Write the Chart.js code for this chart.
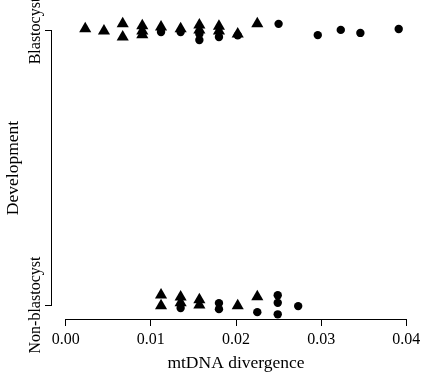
<!DOCTYPE html>
<html>
<head>
<meta charset="utf-8">
<script src="https://cdn.jsdelivr.net/npm/chart.js@4/dist/chart.umd.min.js"></script>
<style>
html,body{margin:0;padding:0;background:#fff;}
#wrap{width:427px;height:374px;position:relative;}
</style>
</head>
<body>
<div id="wrap"><canvas id="c"></canvas></div>
<script>
// Categories (y axis) : index 1 = Non-blastocyst, index 2 = Blastocyst
const categories = ['Non-blastocyst', 'Blastocyst'];
const xTicks = [0, 0.01, 0.02, 0.03, 0.04];
const xTitle = 'mtDNA divergence';
const yTitle = 'Development';

// Triangles, Blastocyst: divergence and vertical jitter
const triBlastX   = [0.0023, 0.0045, 0.0067, 0.0067, 0.0090, 0.0090, 0.0090, 0.0112, 0.0135, 0.0157, 0.0157, 0.0180, 0.0180, 0.0202, 0.0225];
const triBlastJit = [0.008, 0.000, 0.026, -0.022, 0.019, 0.000, -0.014, 0.015, 0.008, 0.022, 0.004, 0.017, 0.000, -0.011, 0.026];
// Circles, Blastocyst
const dotBlastX   = [0.0112, 0.0135, 0.0157, 0.0157, 0.0180, 0.0202, 0.0250, 0.0296, 0.0323, 0.0346, 0.0391];
const dotBlastJit = [-0.004, -0.004, -0.011, -0.033, -0.022, -0.016, 0.026, -0.015, 0.004, -0.007, 0.007];
// Triangles, Non-blastocyst
const triNonX   = [0.0112, 0.0112, 0.0135, 0.0135, 0.0157, 0.0157, 0.0202, 0.0225];
const triNonJit = [0.037, -0.003, 0.029, 0.008, 0.019, 0.000, -0.003, 0.030];
// Circles, Non-blastocyst
const dotNonX   = [0.0135, 0.0180, 0.0180, 0.0225, 0.0249, 0.0249, 0.0249, 0.0273];
const dotNonJit = [-0.011, 0.007, -0.015, -0.026, 0.036, 0.008, -0.034, -0.004];

function pts(xs, jit, level) { return xs.map((x, i) => ({x: x, y: level + jit[i]})); }

const serif = '"Liberation Serif", "DejaVu Serif", serif';
const tickFont = {family: serif, size: 16};
const titleFont = {family: serif, size: 17.5};

const rAxes = {
  id: 'rAxes',
  afterDraw(chart) {
    const {ctx, chartArea, scales} = chart;
    const xs = scales.x, ys = scales.y;
    ctx.save();
    ctx.strokeStyle = '#000';
    ctx.lineWidth = 1;
    ctx.beginPath();
    const yb = Math.round(chartArea.bottom) + 0.5;
    ctx.moveTo(xs.getPixelForValue(xTicks[0]), yb);
    ctx.lineTo(xs.getPixelForValue(xTicks[xTicks.length - 1]), yb);
    const xl = Math.round(chartArea.left) - 0.5;
    ctx.moveTo(xl, ys.getPixelForValue(1));
    ctx.lineTo(xl, ys.getPixelForValue(categories.length));
    ctx.stroke();
    ctx.fillStyle = '#000';
    // y tick labels (rotated)
    ctx.font = tickFont.size + 'px ' + serif;
    ctx.textAlign = 'center';
    ctx.textBaseline = 'alphabetic';
    categories.forEach((c, i) => {
      const py = ys.getPixelForValue(i + 1);
      ctx.save();
      ctx.translate(39.5, py);
      ctx.rotate(-Math.PI / 2);
      ctx.fillText(c, 0, 0);
      ctx.restore();
    });
    // y title
    ctx.font = titleFont.size + 'px ' + serif;
    ctx.save();
    ctx.translate(17.5, ys.getPixelForValue(1.5));
    ctx.rotate(-Math.PI / 2);
    ctx.fillText(yTitle, 0, 0);
    ctx.restore();
    ctx.restore();
  }
};

new Chart(document.getElementById('c'), {
  type: 'scatter',
  data: {
    datasets: [
      {label: 'tri', data: pts(triBlastX, triBlastJit, 2).concat(pts(triNonX, triNonJit, 1)),
       pointStyle: 'triangle', radius: 7, backgroundColor: '#000', borderWidth: 0, clip: false},
      {label: 'dot', data: pts(dotBlastX, dotBlastJit, 2).concat(pts(dotNonX, dotNonJit, 1)),
       pointStyle: 'circle', radius: 4.2, backgroundColor: '#000', borderWidth: 0, clip: false}
    ]
  },
  options: {
    responsive: true,
    maintainAspectRatio: false,
    animation: false,
    devicePixelRatio: 1,
    layout: {padding: {top: 10, right: 1, left: 0, bottom: 0}},
    plugins: {legend: {display: false}, tooltip: {enabled: false}},
    scales: {
      x: {
        type: 'linear', position: 'bottom', min: -0.0016, max: 0.0416,
        border: {display: false},
        grid: {drawOnChartArea: false, drawTicks: true, tickLength: 7, color: '#000', lineWidth: 1},
        ticks: {color: '#000', font: tickFont, padding: 4, maxRotation: 0, autoSkip: false,
                callback: v => v.toFixed(2)},
        title: {display: true, text: xTitle, color: '#000', font: titleFont, padding: {top: 0, bottom: 0}},
        afterBuildTicks: s => { s.ticks = xTicks.map(v => ({value: v})); },
        afterFit: s => { s.height = 55; s.paddingLeft = 0; s.paddingRight = 0; }
      },
      y: {
        type: 'linear', position: 'left', min: 0.949, max: 2.0766,
        border: {display: false},
        grid: {drawOnChartArea: false, drawTicks: true, tickLength: 7, color: '#000', lineWidth: 1},
        ticks: {display: false},
        afterBuildTicks: s => { s.ticks = categories.map((c, i) => ({value: i + 1})); },
        afterFit: s => { s.width = 52; s.paddingTop = 0; s.paddingBottom = 0; }
      }
    }
  },
  plugins: [rAxes]
});
</script>
</body>
</html>
